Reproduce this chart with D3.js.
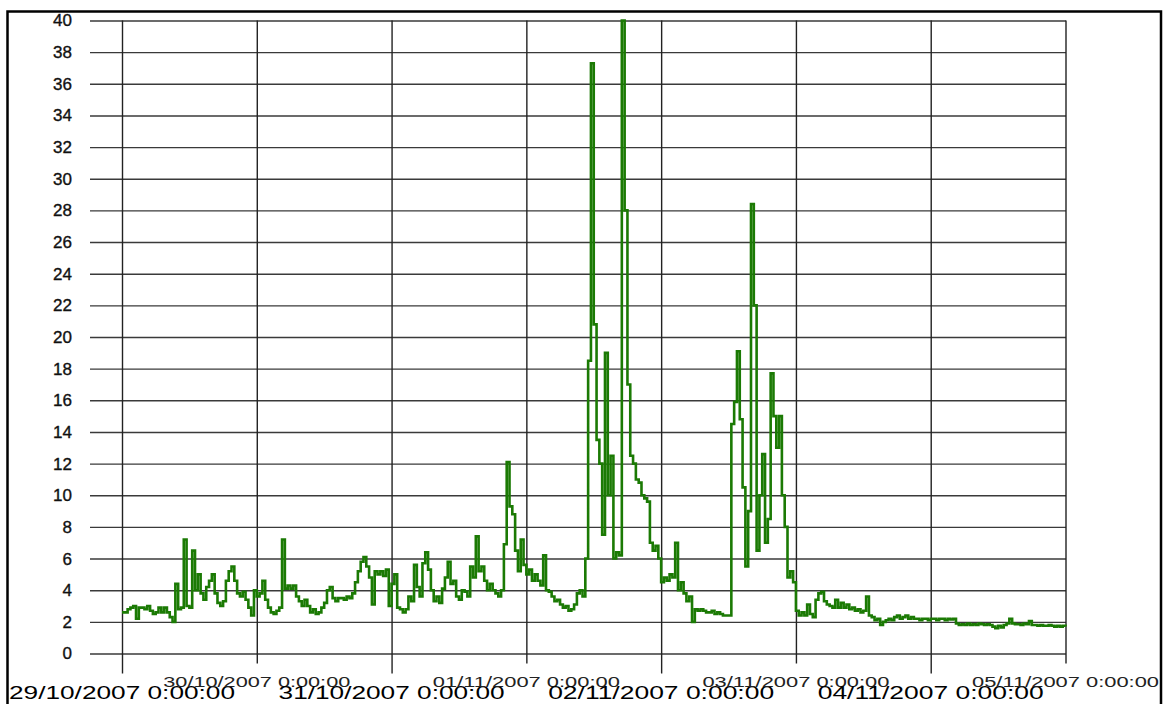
<!DOCTYPE html>
<html>
<head>
<meta charset="utf-8">
<script src="https://cdn.jsdelivr.net/npm/d3@7"></script>
<style>
  html, body { margin: 0; padding: 0; background: #fff; }
  svg { display: block; font-family: "Liberation Sans", Arial, sans-serif; }
</style>
</head>
<body>
<div id="chart"></div>
<script>
// half-hourly readings, one array per day (48 values each)
const day29 = [2.6, 2.6, 2.8, 2.9, 3.0, 2.2, 2.9, 2.9, 2.8, 3.0, 2.7, 2.5, 2.6, 2.9, 2.6, 2.9,
  2.6, 2.3, 2.0, 4.4, 2.8, 2.9, 7.2, 3.0, 2.9, 6.5, 4.0, 5.0, 3.8, 3.4, 4.2, 4.6,
  5.0, 3.8, 3.2, 3.0, 3.3, 4.6, 5.2, 5.5, 4.6, 3.8, 3.6, 3.9, 3.4, 2.9, 2.4, 4.0];
const day30 = [3.6, 3.8, 4.6, 3.4, 2.9, 2.6, 2.5, 2.7, 2.9, 7.2, 4.1, 4.3, 4.1, 4.3, 3.6, 3.3,
  3.0, 3.4, 3.0, 2.6, 2.8, 2.5, 2.6, 2.9, 3.2, 4.0, 4.2, 3.5, 3.3, 3.5, 3.5, 3.4,
  3.6, 3.5, 3.8, 4.5, 5.2, 5.8, 6.1, 5.5, 4.8, 3.1, 5.2, 5.0, 5.2, 4.9, 5.3, 3.0];
const day31 = [4.4, 5.0, 2.9, 2.8, 2.6, 2.8, 3.6, 3.3, 5.6, 4.2, 3.6, 5.7, 6.4, 5.3, 4.0, 3.3,
  3.6, 3.2, 4.1, 4.8, 5.8, 4.4, 4.6, 3.6, 3.4, 4.0, 3.9, 3.6, 5.5, 4.8, 7.4, 5.2,
  5.5, 4.6, 4.0, 4.4, 4.0, 3.8, 3.6, 4.0, 6.9, 12.1, 9.3, 8.8, 6.5, 5.2, 7.2, 5.6];
const day01 = [5.0, 5.3, 4.6, 5.0, 4.6, 4.3, 6.2, 4.0, 3.9, 3.6, 3.3, 3.4, 3.1, 2.9, 3.0, 2.7,
  2.8, 3.1, 3.8, 4.0, 3.6, 6.0, 18.5, 37.3, 20.8, 13.5, 12.0, 7.5, 19.0, 10.0, 12.5, 6.0,
  6.4, 6.2, 40.0, 28.0, 17.0, 12.5, 12.0, 11.0, 10.8, 10.0, 9.8, 9.6, 7.0, 6.5, 6.8, 6.0];
const day02 = [4.5, 4.8, 4.6, 5.0, 4.8, 7.0, 4.0, 4.5, 3.8, 3.3, 3.6, 2.0, 2.8, 2.7, 2.8, 2.7,
  2.6, 2.6, 2.7, 2.5, 2.6, 2.5, 2.4, 2.4, 2.4, 14.5, 15.9, 19.1, 14.8, 10.5, 5.5, 9.0,
  28.4, 22.0, 6.5, 10.0, 12.6, 7.0, 8.5, 17.7, 15.0, 13.0, 15.0, 10.0, 8.0, 4.8, 5.2, 4.5];
const day03 = [2.7, 2.4, 2.6, 2.4, 3.1, 2.5, 2.3, 3.4, 3.8, 3.9, 3.3, 3.1, 3.0, 2.9, 3.4, 2.9,
  3.2, 2.9, 3.1, 2.8, 2.9, 2.7, 2.8, 2.6, 2.7, 3.6, 2.4, 2.3, 2.1, 2.2, 1.8, 2.0,
  2.1, 2.2, 2.1, 2.3, 2.4, 2.2, 2.3, 2.4, 2.2, 2.3, 2.2, 2.2, 2.1, 2.2, 2.2, 2.1];
const day04 = [2.2, 2.2, 2.1, 2.2, 2.2, 2.1, 2.2, 2.15, 2.2, 1.9, 1.8, 1.85, 1.8, 1.9, 1.8, 1.85,
  1.8, 1.9, 1.85, 1.8, 1.85, 1.8, 1.7, 1.6, 1.75, 1.65, 1.8, 1.9, 2.2, 1.9, 1.85, 1.85,
  1.8, 1.9, 1.85, 2.05, 1.8, 1.8, 1.75, 1.8, 1.75, 1.75, 1.8, 1.75, 1.7, 1.75, 1.7, 1.75];
const lastValue = 1.7;

const days = [day29, day30, day31, day01, day02, day03, day04];
const startDate = new Date(2007, 9, 29);
const endDate = new Date(2007, 10, 5);
const yTicks = d3.range(0, 41, 2);
const dayTicks = d3.timeDay.range(startDate, d3.timeDay.offset(endDate, 1));

const width = 1165, height = 704;
const svg = d3.select('#chart').append('svg')
  .attr('width', width)
  .attr('height', height);

const x = d3.scaleTime().domain([startDate, endDate]).range([122, 1065.5]);
const y = d3.scaleLinear().domain([0, 40]).range([653.5, 20.5]);

// build the series
const points = [];
days.forEach((vals, d) => {
  vals.forEach((v, i) => {
    points.push({ t: d3.timeMinute.offset(startDate, (d * 48 + i) * 30), v: v });
  });
});
points.push({ t: endDate, v: lastValue });

// frame
svg.append('path')
  .attr('d', 'M7.5,704 V11.5 H1161 V704')
  .attr('fill', 'none')
  .attr('stroke', '#000')
  .attr('stroke-width', 2.5);

// horizontal grid + y labels
const yAxis = d3.axisLeft(y).tickValues(yTicks).tickSize(-(1066 - 90)).tickPadding(18);
const yG = svg.append('g').attr('transform', 'translate(90,0)').call(yAxis);
yG.select('.domain').remove();
yG.selectAll('.tick line').attr('stroke', '#3a3a3a').attr('stroke-width', 1.4);
yG.selectAll('.tick text')
  .attr('font-size', 17)
  .attr('fill', '#111')
  .attr('stroke', '#111')
  .attr('stroke-width', 0.35)
  .attr('font-family', '"Liberation Sans", Arial, sans-serif');

// vertical grid, alternating tick length below the plot
const xAxis = d3.axisBottom(x).tickValues(dayTicks).tickSize(-(653.5 - 20.5)).tickFormat('');
const xG = svg.append('g').attr('transform', 'translate(0,653.5)').call(xAxis);
xG.select('.domain').remove();
xG.selectAll('.tick line')
  .attr('y1', (d, i) => i % 2 === 0 ? 20 : 10)
  .attr('stroke', '#222')
  .attr('stroke-width', 1.4);

// date labels
const fmt = d3.timeFormat('%d/%m/%Y %-H:%M:%S');
svg.append('g').selectAll('text')
  .data(dayTicks)
  .join('text')
  .attr('x', d => x(d))
  .attr('y', (d, i) => i % 2 === 0 ? 699 : 687)
  .attr('text-anchor', 'middle')
  .attr('font-size', (d, i) => i % 2 === 0 ? 19 : 14.5)
  .attr('textLength', (d, i) => i % 2 === 0 ? 226 : 187)
  .attr('lengthAdjust', 'spacingAndGlyphs')
  .attr('fill', (d, i) => i % 2 === 0 ? '#000' : '#222')
  .text(d => fmt(d));

// series
const line = d3.line()
  .x(d => x(d.t))
  .y(d => y(d.v))
  .curve(d3.curveStepAfter);

svg.append('path')
  .datum(points)
  .attr('d', line)
  .attr('fill', 'none')
  .attr('stroke', '#1b7a04')
  .attr('stroke-width', 2.6)
  .attr('stroke-linejoin', 'miter');
</script>
</body>
</html>
